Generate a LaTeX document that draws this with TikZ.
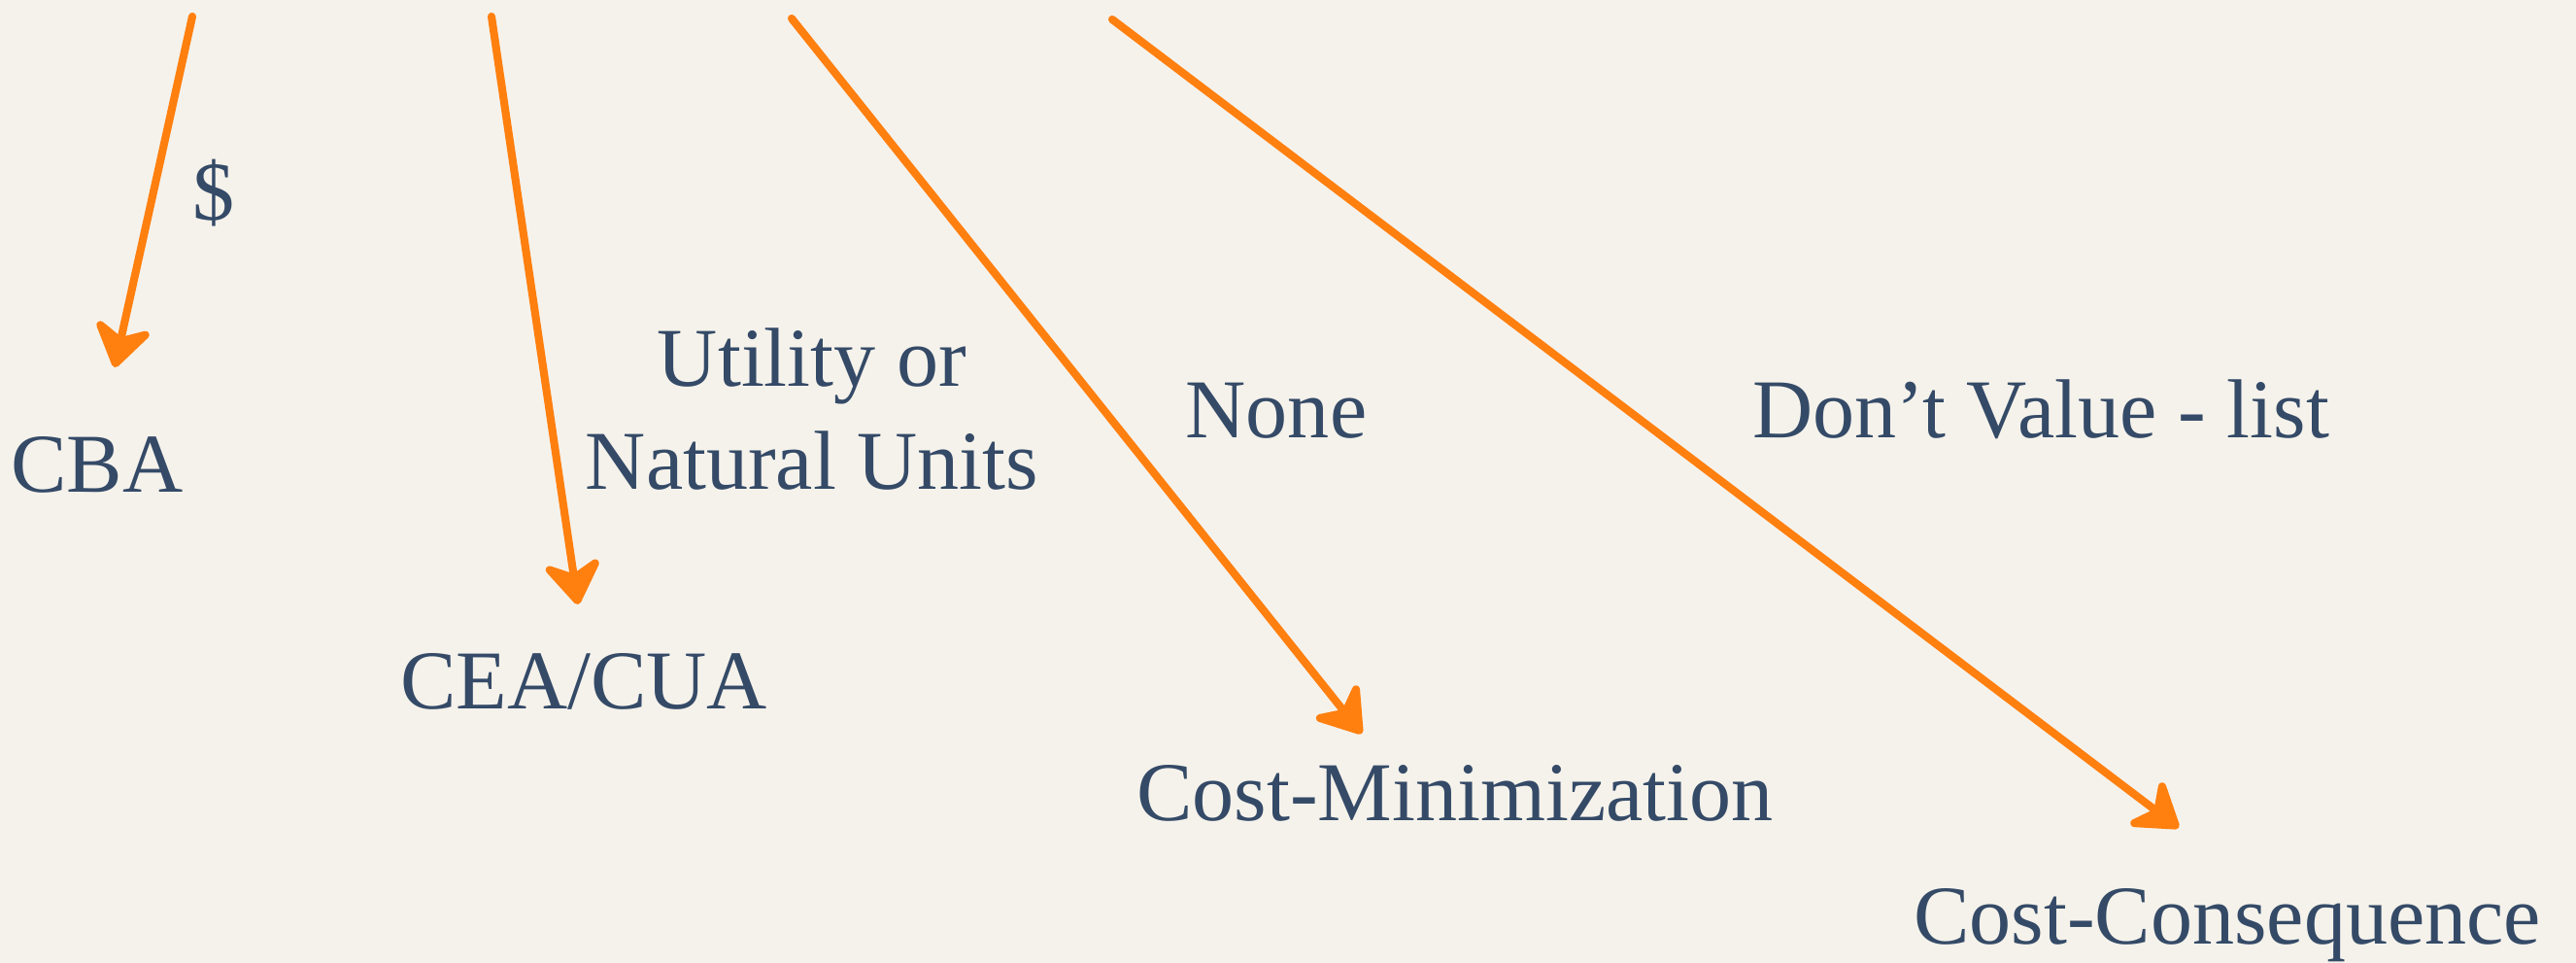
\documentclass[tikz,border=0pt]{standalone}
\usepackage{fontspec}
\setmainfont{Liberation Serif}
\usetikzlibrary{arrows.meta}

\definecolor{parchment}{RGB}{245,242,235}
\definecolor{inkblue}{RGB}{52,74,103}
\definecolor{brushorange}{RGB}{255,127,15}

\begin{document}
\begin{tikzpicture}[
  txt/.style={inner sep=0pt, anchor=base, text=inkblue, font=\fontsize{24.5}{29}\selectfont},
  brush/.style={draw=brushorange, line width=2.3pt, line cap=round,
    -{Stealth[length=15pt, width=20pt, inset=5pt, round]}}
]
\fill[parchment] (0,0) rectangle (26.52,9.91);
\useasboundingbox (0,0) rectangle (26.52,9.91);

% labels
\node[txt] (dollar) at (2.20,7.64) {\$};
\node[txt] (cba) at (1.00,4.84) {CBA};
\node[txt] (util) at (8.36,5.93) {Utility or};
\node[txt] (natunits) at (8.36,4.87) {Natural Units};
\node[txt] (ceacua) at (6.01,2.61) {CEA/CUA};
\node[txt] (none) at (13.14,5.40) {None};
\node[txt] (dontvalue) at (21.01,5.40) {Don’t Value - list};
\node[txt] (costmin) at (14.98,1.46) {Cost-Minimization};
\node[txt] (costcons) at (22.93,0.19) {Cost-Consequence};

% arrow ends
\coordinate (s1) at (1.98,9.74);
\coordinate (t1) at (1.18,6.13);
\coordinate (s2) at (5.06,9.74);
\coordinate (t2) at (5.95,3.69);
\coordinate (s3) at (8.15,9.72);
\coordinate (t3) at (14.02,2.36);
\coordinate (s4) at (11.45,9.71);
\coordinate (t4) at (22.43,1.39);

\draw[brush] (s1) -- (t1);
\draw[brush] (s2) -- (t2);
\draw[brush] (s3) -- (t3);
\draw[brush] (s4) -- (t4);
\end{tikzpicture}
\end{document}
